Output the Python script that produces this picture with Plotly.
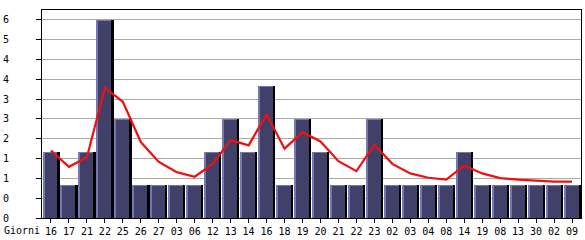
import plotly.graph_objects as go
import numpy as np

days = ["16", "17", "21", "22", "25", "26", "27", "03", "06", "12", "13", "14", "16", "18", "19",
        "20", "21", "22", "23", "02", "03", "04", "08", "14", "19", "08", "13", "30", "02", "09"]
counts = [2, 1, 2, 6, 3, 1, 1, 1, 1, 2, 3, 2, 4, 1, 3,
          2, 1, 1, 3, 1, 1, 1, 1, 2, 1, 1, 1, 1, 1, 1]
trend = [2.04, 1.55, 1.84, 3.94, 3.52, 2.30, 1.70, 1.39, 1.25, 1.64, 2.36, 2.20, 3.14, 2.10, 2.60,
         2.32, 1.72, 1.42, 2.22, 1.64, 1.35, 1.22, 1.16, 1.59, 1.35, 1.21, 1.16, 1.12, 1.10, 1.10]
ytick_vals = [0, 0.6, 1.2, 1.8, 2.4, 3.0, 3.6, 4.2, 4.8, 5.4, 6.0]
ytick_text = ["0", "0", "1", "1", "2", "3", "3", "4", "4", "5", "6"]

x = list(range(len(days)))
FONT = "DejaVu Sans Mono"
PX = 18.0  # pixels per category slot
UNIT = 6.3 / 210.0  # y units per pixel

fig = go.Figure()
# shadow
fig.add_trace(go.Bar(x=x, y=counts, width=15.2 / PX, offset=-6.5 / PX,
                     marker=dict(color="#000000", line=dict(width=0)), showlegend=False, hoverinfo="skip"))
# light edge
fig.add_trace(go.Bar(x=x, y=counts, width=15 / PX, offset=-8.5 / PX,
                     marker=dict(color="#7676b6", line=dict(width=0)), showlegend=False, hoverinfo="skip"))
# dark fill
fig.add_trace(go.Bar(x=x, y=list(np.array(counts) - UNIT), width=13 / PX, offset=-6.5 / PX,
                     marker=dict(color="#404068", line=dict(width=0)), showlegend=False))
fig.add_trace(go.Scatter(x=x, y=trend, mode="lines", line=dict(color="#f01010", width=2.2),
                         showlegend=False))

fig.update_layout(
    width=585, height=240, margin=dict(l=41, r=3, t=10, b=20),
    paper_bgcolor="white", plot_bgcolor="white", barmode="overlay", bargap=0,
    font=dict(family=FONT, size=10, color="black"),
    xaxis=dict(range=[-0.5, len(days) - 0.5], tickmode="array", tickvals=x, ticktext=days,
               ticks="outside", ticklen=4, tickcolor="black", showgrid=False,
               showline=True, linecolor="black", linewidth=1, mirror=True, zeroline=False,
               tickfont=dict(family=FONT, size=10)),
    yaxis=dict(range=[0, 6.3], tickmode="array", tickvals=ytick_vals, ticktext=ytick_text,
               ticks="outside", ticklen=5, tickcolor="black", showgrid=True, gridcolor="#aaaaaa",
               gridwidth=1, showline=True, linecolor="black", linewidth=1, mirror=True,
               zeroline=False, ticklabelstandoff=25, tickfont=dict(family=FONT, size=10)),
    annotations=[dict(text="Giorni", xref="paper", yref="paper", x=-40 / 540, y=-13 / 210,
                      xanchor="left", yanchor="middle", showarrow=False,
                      font=dict(family=FONT, size=10))],
)
fig.write_html("out.html")
